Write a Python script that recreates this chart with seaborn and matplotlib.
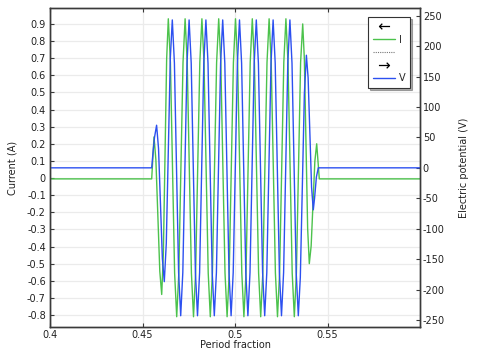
import matplotlib
matplotlib.use("Agg")
import matplotlib.pyplot as plt
from matplotlib.lines import Line2D
import seaborn as sns
import pandas as pd

# ---- data ----
t_I = [0.400, 0.45497, 0.45622, 0.45724, 0.45830, 0.45935, 0.46038, 0.46127, 0.46216, 0.46305,
       0.46395, 0.46509, 0.46622, 0.46736, 0.46849, 0.46963, 0.47076, 0.47190,
       0.47303, 0.47417, 0.47530, 0.47644, 0.47757, 0.47871, 0.47984, 0.48098,
       0.48211, 0.48325, 0.48438, 0.48552, 0.48665, 0.48779, 0.48892, 0.49006,
       0.49119, 0.49233, 0.49346, 0.49460, 0.49573, 0.49687, 0.49800, 0.49914,
       0.50027, 0.50141, 0.50254, 0.50368, 0.50481, 0.50595, 0.50708, 0.50822,
       0.50935, 0.51049, 0.51162, 0.51276, 0.51389, 0.51503, 0.51616, 0.51730,
       0.51844, 0.51957, 0.52071, 0.52184, 0.52297, 0.52411, 0.52525, 0.52638,
       0.52752, 0.52865, 0.52979, 0.53092, 0.53206, 0.53319, 0.53433, 0.53546,
       0.53660, 0.53749, 0.53838, 0.53927, 0.54016, 0.54116, 0.54216, 0.54316,
       0.54416, 0.54557, 0.600]
I_vals = [-0.005, -0.005, 0.24, 0.105, -0.22, -0.545, -0.68, -0.444, 0.125, 0.694,
          0.93, 0.675, 0.06, -0.555, -0.81, -0.555, 0.06, 0.675,
          0.93, 0.675, 0.06, -0.555, -0.81, -0.555, 0.06, 0.675,
          0.93, 0.675, 0.06, -0.555, -0.81, -0.555, 0.06, 0.675,
          0.93, 0.675, 0.06, -0.555, -0.81, -0.555, 0.06, 0.675,
          0.93, 0.675, 0.06, -0.555, -0.81, -0.555, 0.06, 0.675,
          0.93, 0.675, 0.06, -0.555, -0.81, -0.555, 0.06, 0.675,
          0.93, 0.675, 0.06, -0.555, -0.81, -0.555, 0.06, 0.675,
          0.93, 0.675, 0.06, -0.555, -0.81, -0.555, 0.06, 0.675,
          0.90, 0.695, 0.20, -0.295, -0.50, -0.397, -0.15, 0.097,
          0.20, -0.005, -0.005]

t_V = [0.400, 0.45497, 0.45568, 0.45649, 0.45762, 0.45866, 0.45970, 0.46074, 0.46178,
       0.46286, 0.46395, 0.46503,
       0.46611, 0.46725, 0.46838, 0.46952, 0.47065, 0.47179, 0.47292, 0.47406,
       0.47519, 0.47633, 0.47746, 0.47860, 0.47973, 0.48087, 0.48200, 0.48314,
       0.48427, 0.48541, 0.48654, 0.48768, 0.48881, 0.48995, 0.49108, 0.49222,
       0.49335, 0.49449, 0.49562, 0.49676, 0.49789, 0.49903, 0.50016, 0.50130,
       0.50243, 0.50357, 0.50470, 0.50584, 0.50697, 0.50811, 0.50924, 0.51038,
       0.51151, 0.51265, 0.51378, 0.51492, 0.51605, 0.51719, 0.51832, 0.51946,
       0.52060, 0.52173, 0.52287, 0.52400, 0.52513, 0.52627, 0.52741, 0.52854,
       0.52968, 0.53081, 0.53195, 0.53308, 0.53422,
       0.53531, 0.53641, 0.53750, 0.53859, 0.53952, 0.54046, 0.54139, 0.54232,
       0.54300, 0.54400, 0.54503, 0.600]
V_vals = [0, 0, 25, 50, 70, 32, -58, -149, -187,
          -124, 28, 180,
          243, 172, 0, -172, -243, -172, 0, 172,
          243, 172, 0, -172, -243, -172, 0, 172,
          243, 172, 0, -172, -243, -172, 0, 172,
          243, 172, 0, -172, -243, -172, 0, 172,
          243, 172, 0, -172, -243, -172, 0, 172,
          243, 172, 0, -172, -243, -172, 0, 172,
          243, 172, 0, -172, -243, -172, 0, 172,
          243, 172, 0, -172, -243,
          -180, -29, 122, 185, 148, 58, -32, -69,
          -50, -15, 0, 0]

x_ticks = [0.4, 0.45, 0.5, 0.55]
x_ticklabels = ["0.4", "0.45", "0.5", "0.55"]
left_ticks = [-0.8, -0.7, -0.6, -0.5, -0.4, -0.3, -0.2, -0.1, 0, 0.1, 0.2, 0.3, 0.4, 0.5, 0.6, 0.7, 0.8, 0.9]
left_ticklabels = ["-0.8", "-0.7", "-0.6", "-0.5", "-0.4", "-0.3", "-0.2", "-0.1", "0",
                   "0.1", "0.2", "0.3", "0.4", "0.5", "0.6", "0.7", "0.8", "0.9"]
right_ticks = [-250, -200, -150, -100, -50, 0, 50, 100, 150, 200, 250]
right_ticklabels = ["-250", "-200", "-150", "-100", "-50", "0", "50", "100", "150", "200", "250"]

GREEN = "#4cc24c"
BLUE = "#2c50f0"
SPINE = "#3a3a3a"

sns.set_theme(style="white")
plt.rcParams["font.family"] = ["DejaVu Sans"]
plt.rcParams["axes.unicode_minus"] = False

fig = plt.figure(figsize=(4.9, 3.51), dpi=100)
ax = fig.add_axes([50 / 490, 24 / 351, 370 / 490, 319 / 351])
ax2 = ax.twinx()

dfI = pd.DataFrame({"t": t_I, "I": I_vals})
dfV = pd.DataFrame({"t": t_V, "V": V_vals})

sns.lineplot(data=dfI, x="t", y="I", ax=ax, color=GREEN, linewidth=1.0, sort=False,
             estimator=None, legend=False)
sns.lineplot(data=dfV, x="t", y="V", ax=ax2, color=BLUE, linewidth=1.0, sort=False,
             estimator=None, legend=False)

ax.set_xlim(0.4, 0.6)
ax.set_ylim(-0.870, 0.993)
ax2.set_ylim(-261.5, 262.6)

ax.set_xticks(x_ticks)
ax.set_xticklabels(x_ticklabels)
ax.set_yticks(left_ticks)
ax.set_yticklabels(left_ticklabels)
ax2.set_yticks(right_ticks)
ax2.set_yticklabels(right_ticklabels)

ax.grid(True, color="#ebebeb", linewidth=0.9)
ax.set_axisbelow(True)
ax2.grid(False)

for a in (ax, ax2):
    for s in a.spines.values():
        s.set_color(SPINE)
        s.set_linewidth(1.0)
        s.set_visible(True)

ax.tick_params(axis="x", direction="in", length=3, width=0.8, colors=SPINE, labelsize=7,
               labelcolor="#222222", pad=2.5, top=True, bottom=True)
ax.tick_params(axis="y", direction="in", length=3, width=0.8, colors=SPINE, labelsize=7,
               labelcolor="#222222", pad=3, left=True, right=False)
ax2.tick_params(axis="y", direction="in", length=3, width=0.8, colors=SPINE, labelsize=7,
                labelcolor="#222222", pad=2, right=True, left=False)

ax.set_xlabel("Period fraction", fontsize=7, color="#222222", labelpad=0)
ax.set_ylabel("Current (A)", fontsize=7, color="#222222", labelpad=7)
ax2.set_ylabel("Electric potential (V)", fontsize=7, color="#222222", labelpad=10)

handles = [
    Line2D([], [], color="black", marker=r"$\leftarrow$", markersize=8, markeredgewidth=0,
           linestyle="None"),
    Line2D([], [], color=GREEN, linewidth=1.0),
    Line2D([], [], color="#777777", linewidth=0.8, linestyle=(0, (1, 1))),
    Line2D([], [], color="black", marker=r"$\rightarrow$", markersize=8, markeredgewidth=0,
           linestyle="None"),
    Line2D([], [], color=BLUE, linewidth=1.0),
]
labels = ["", "I", "", "", "V"]
leg = ax2.legend(handles, labels, loc="upper right", bbox_to_anchor=(0.973, 0.972),
                 borderaxespad=0, fontsize=7, frameon=True, fancybox=False,
                 shadow={"ox": 1.5, "oy": -1.5, "alpha": 0.45},
                 numpoints=1, handlelength=2.2, handletextpad=0.4, labelspacing=0.3,
                 borderpad=0.5)
leg.get_frame().set_edgecolor("#333333")
leg.get_frame().set_linewidth(0.8)

fig.savefig("out.png", dpi=100)
